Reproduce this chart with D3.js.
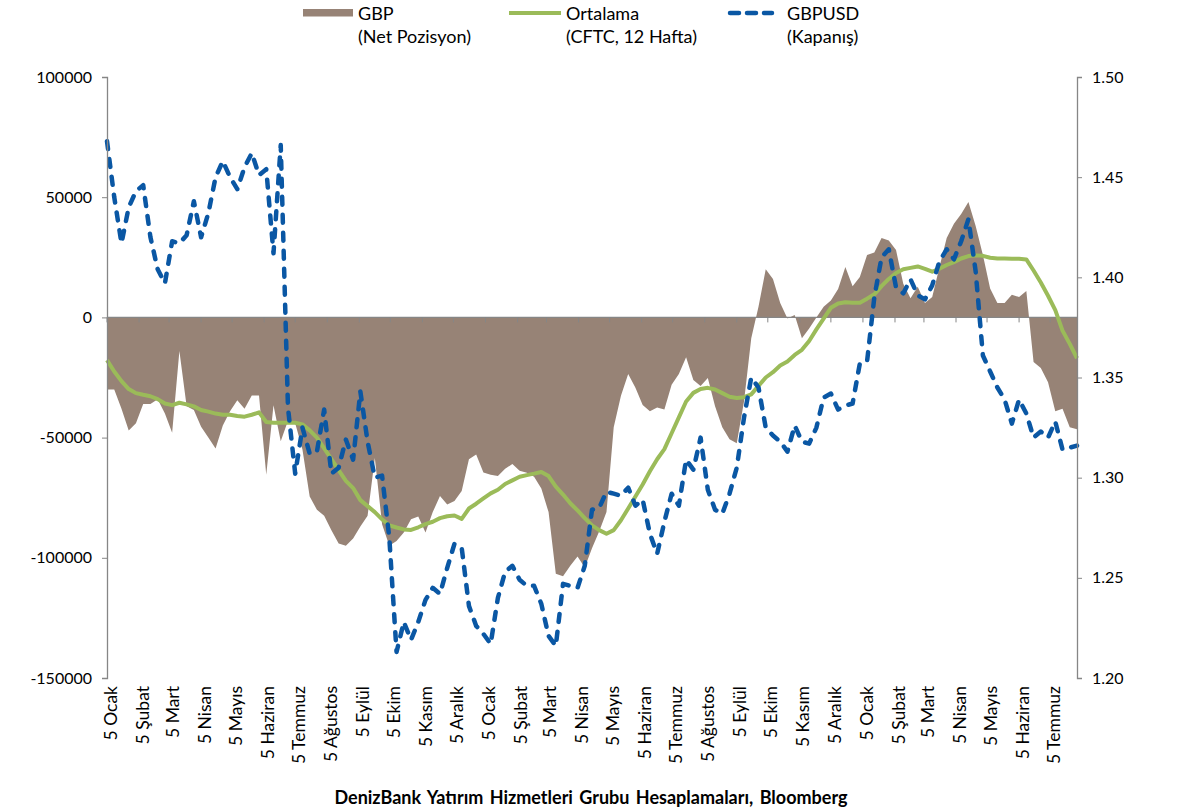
<!DOCTYPE html>
<html>
<head>
<meta charset="utf-8">
<script src="https://cdn.jsdelivr.net/npm/d3@7"></script>
<style>
  body { margin: 0; background: #fff; }
  text { font-family: Lato, "Open Sans", sans-serif; }
</style>
</head>
<body>
<div id="chart"></div>
<script>
// weekly CFTC data, every Tuesday starting 5 Jan 2016
var startDate = Date.UTC(2016, 0, 5)
var endDate = Date.UTC(2018, 6, 31)

var monthNames = ["Ocak", "Şubat", "Mart", "Nisan", "Mayıs", "Haziran", "Temmuz", "Ağustos", "Eylül", "Ekim", "Kasım", "Aralık"]

// GBP net position (contracts)
var netPosition = [
  -30000, -30000, -38000, -47000, -44000, -36000, -36000, -34000, -40000, -48000,
  -14000, -37000, -38500, -45500, -50000, -54500, -45000, -39000, -34500, -38000,
  -32500, -32500, -65500, -36500, -51500, -43000, -44000, -55000, -74500, -80000,
  -82500, -88500, -94000, -95000, -92000, -87000, -82500, -58500, -86000, -95000,
  -93000, -89500, -84000, -82800, -89500, -81000, -74300, -77800, -76400, -72200,
  -59000, -57000, -64500, -65500, -66000, -63000, -61000, -63800, -64600, -66300,
  -71200, -81000, -106600, -107700, -103300, -99500, -104000, -96000, -89000, -81000,
  -45700, -32600, -23500, -29300, -36400, -39000, -37500, -38300, -28000, -23500,
  -16600, -26000, -28500, -25200, -37000, -45700, -50700, -52300, -35000, -8700,
  4400, 20000, 16000, 6000, -500, 1000, -8700, -4600, 0, 4400,
  7000, 11800, 21000, 13000, 16800, 26000, 27000, 33000, 32000, 28000,
  14000, 8000, 12700, 6000, 8500, 21000, 33000, 39000, 43000, 48000,
  38000, 26000, 12000, 6000, 6000, 9400, 8500, 11000, -18600, -21000,
  -27000, -39000, -38000, -45700, -46500
]

// 12-week average of net position
var average12w = [
  -17800, -22500, -26500, -29800, -31500, -32200, -32800, -34000, -35800, -36500,
  -35500, -36200, -37000, -38500, -39200, -40000, -40500, -40500, -41000, -41300,
  -40500, -39500, -43500, -43800, -43800, -43800, -43800, -44500, -47000, -50000,
  -54500, -59000, -63500, -68000, -71000, -76000, -78500, -81000, -84000, -86500,
  -87400, -88200, -88400, -87300, -86000, -85000, -83500, -82700, -82400, -83800,
  -79500, -77500, -75300, -73200, -71700, -69300, -67800, -66300, -65600, -65000,
  -64300, -66000, -70400, -73700, -77300, -80300, -83500, -86500, -88500, -90000,
  -88500, -84400, -79500, -74500, -69500, -64000, -59000, -54800, -48200, -41600,
  -35000, -31400, -29800, -29300, -30000, -31500, -33000, -33500, -33200, -32000,
  -28500, -25000, -22800, -20000, -18300, -15600, -13500, -9800, -5000, -500,
  4000, 5800, 6300, 6100, 6100, 7800, 9600, 13000, 16000, 18500,
  20000, 20600, 21200, 20200, 19000, 20300, 21800, 23000, 24500, 25500,
  25800, 25600, 24800, 24500, 24500, 24400, 24400, 24100, 19500, 14500,
  9000, 3000, -5500, -11000, -17000
]

// GBPUSD weekly close
var gbpusd = [
  1.468, 1.440, 1.417, 1.435, 1.443, 1.446, 1.420, 1.404, 1.397, 1.418,
  1.417, 1.421, 1.438, 1.420, 1.432, 1.450, 1.458, 1.450, 1.444, 1.455,
  1.462, 1.451, 1.454, 1.412, 1.466, 1.335, 1.302, 1.325, 1.312, 1.313,
  1.334, 1.302, 1.305, 1.319, 1.309, 1.343, 1.318, 1.300, 1.301, 1.270,
  1.213, 1.228, 1.219, 1.228, 1.239, 1.245, 1.242, 1.255, 1.267, 1.265,
  1.236, 1.226, 1.222, 1.217, 1.240, 1.253, 1.256, 1.249, 1.246, 1.246,
  1.237, 1.221, 1.216, 1.247, 1.246, 1.245, 1.256, 1.284, 1.285, 1.293,
  1.292, 1.291, 1.295, 1.286, 1.289, 1.272, 1.262, 1.278, 1.292, 1.286,
  1.309, 1.304, 1.320, 1.294, 1.284, 1.282, 1.292, 1.305, 1.330, 1.350,
  1.345, 1.325, 1.321, 1.318, 1.313, 1.326, 1.318, 1.317, 1.325, 1.340,
  1.342, 1.334, 1.336, 1.337, 1.357, 1.358, 1.390, 1.410, 1.414, 1.395,
  1.392, 1.399, 1.391, 1.389, 1.396, 1.408, 1.414, 1.409, 1.418, 1.429,
  1.403, 1.361, 1.353, 1.345, 1.339, 1.327, 1.339, 1.332, 1.320, 1.323,
  1.320, 1.328, 1.314, 1.315, 1.316
]

var leftTicks = [100000, 50000, 0, -50000, -100000, -150000]
var rightTicks = [1.50, 1.45, 1.40, 1.35, 1.30, 1.25, 1.20]

var dates = netPosition.map(function (d, i) { return d3.utcDay.offset(new Date(startDate), i * 7) })
var tickDates = d3.utcMonth.range(new Date(Date.UTC(2016, 0, 1)), new Date(Date.UTC(2018, 6, 2)))
  .map(function (d) { return new Date(Date.UTC(d.getUTCFullYear(), d.getUTCMonth(), 5)) })

var W = 1178, H = 812
var svg = d3.select("#chart").append("svg")
  .attr("width", W)
  .attr("height", H)

var x = d3.scaleUtc()
  .domain([new Date(startDate), new Date(endDate)])
  .range([107, 1077])

var yL = d3.scaleLinear()
  .domain([-150000, 100000])
  .range([678, 77])

var yR = d3.scaleLinear()
  .domain([1.20, 1.50])
  .range([678, 77])

var brown = "#978376", green = "#9BBB59", blue = "#0A57A4", axisGrey = "#868686"

// area for net position
var area = d3.area()
  .x(function (d, i) { return x(dates[i]) })
  .y0(yL(0))
  .y1(function (d) { return yL(d) })

svg.append("path")
  .datum(netPosition)
  .attr("d", area)
  .attr("fill", brown)

// zero line with month ticks
svg.append("line")
  .attr("x1", 107).attr("x2", 1077)
  .attr("y1", yL(0)).attr("y2", yL(0))
  .attr("stroke", axisGrey).attr("stroke-width", 1.3)

svg.selectAll(".xtick")
  .data(tickDates)
  .enter()
  .append("line")
    .attr("x1", function (d) { return x(d) })
    .attr("x2", function (d) { return x(d) })
    .attr("y1", yL(0))
    .attr("y2", yL(0) + 5)
    .attr("stroke", axisGrey)

// month labels below the plot
svg.selectAll(".xlabel")
  .data(tickDates)
  .enter()
  .append("text")
    .attr("transform", function (d) { return "translate(" + x(d) + ",686) rotate(-90)" })
    .attr("dy", "0.55em")
    .attr("text-anchor", "end")
    .style("font-size", "17.5px")
    .attr("fill", "#000")
    .text(function (d) { return "5 " + monthNames[d.getUTCMonth()] })

// 12 week average
var avgLine = d3.line()
  .x(function (d, i) { return x(dates[i]) })
  .y(function (d) { return yL(d) })

svg.append("path")
  .datum(average12w)
  .attr("d", avgLine)
  .attr("fill", "none")
  .attr("stroke", green)
  .attr("stroke-width", 4)
  .attr("stroke-linejoin", "round")

// GBPUSD close
var fxLine = d3.line()
  .x(function (d, i) { return x(dates[i]) })
  .y(function (d) { return yR(d) })

svg.append("path")
  .datum(gbpusd)
  .attr("d", fxLine)
  .attr("fill", "none")
  .attr("stroke", blue)
  .attr("stroke-width", 4.5)
  .attr("stroke-dasharray", "8,10")
  .attr("stroke-linecap", "round")
  .attr("stroke-linejoin", "round")

// axes
svg.append("g")
  .attr("transform", "translate(107,0)")
  .call(d3.axisLeft(yL).tickValues(leftTicks).tickSize(5).tickPadding(10).tickFormat(function (d) { return String(d) }))

svg.append("g")
  .attr("transform", "translate(1077,0)")
  .call(d3.axisRight(yR).tickValues(rightTicks).tickSize(5).tickPadding(10).tickFormat(d3.format(".2f")))

svg.selectAll(".domain").attr("stroke", axisGrey).attr("stroke-width", 1.3)
svg.selectAll(".tick line").attr("stroke", axisGrey)
svg.selectAll(".tick text")
  .style("font-size", "16px")
  .style("font-family", "Lato, sans-serif")
  .attr("fill", "#000")

// legend
var legend = svg.append("g").style("font-size", "18px")

legend.append("rect")
  .attr("x", 303).attr("y", 9).attr("width", 50).attr("height", 7.5)
  .attr("fill", brown)
legend.append("text").attr("x", 358).attr("y", 19.5).text("GBP")
legend.append("text").attr("x", 358).attr("y", 42.5).text("(Net Pozisyon)")

legend.append("line")
  .attr("x1", 509).attr("x2", 561).attr("y1", 13).attr("y2", 13)
  .attr("stroke", green).attr("stroke-width", 4)
legend.append("text").attr("x", 566).attr("y", 19.5).text("Ortalama")
legend.append("text").attr("x", 566).attr("y", 42.5).text("(CFTC, 12 Hafta)")

legend.append("line")
  .attr("x1", 730).attr("x2", 772).attr("y1", 13).attr("y2", 13)
  .attr("stroke", blue).attr("stroke-width", 4.5)
  .attr("stroke-dasharray", "9,8").attr("stroke-linecap", "round")
legend.append("text").attr("x", 787).attr("y", 19.5).text("GBPUSD")
legend.append("text").attr("x", 787).attr("y", 42.5).text("(Kapanış)")

// source
svg.append("text")
  .attr("x", 591)
  .attr("y", 804)
  .attr("text-anchor", "middle")
  .style("font-size", "18px")
  .style("font-weight", "bold")
  .style("word-spacing", "2px")
  .text("DenizBank Yatırım Hizmetleri Grubu Hesaplamaları, Bloomberg")
</script>
</body>
</html>
